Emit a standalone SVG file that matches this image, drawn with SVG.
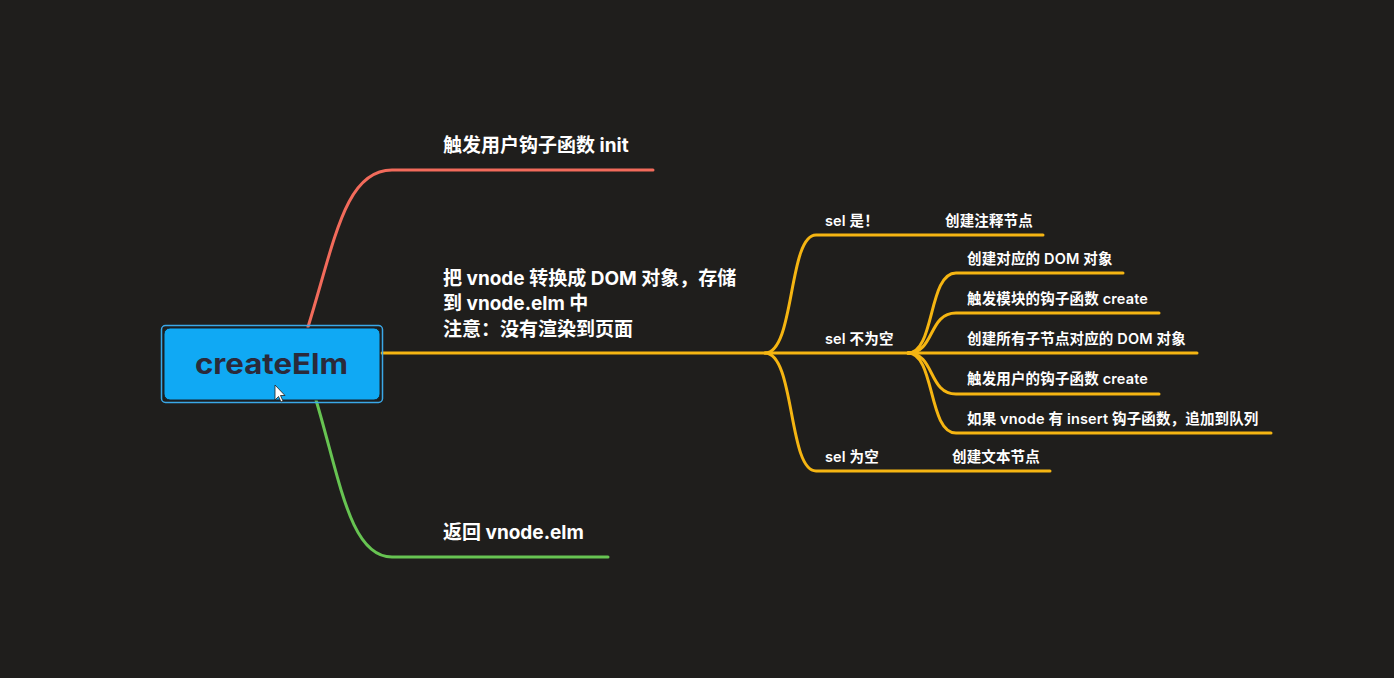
<svg xmlns="http://www.w3.org/2000/svg" width="1394" height="678" viewBox="0 0 1394 678">
<style>
.bg{fill:#1f1e1c}
.c{fill:none;stroke-width:3;stroke-linecap:round}
.red{stroke:#f26b5b}
.green{stroke:#67c452}
.yel{stroke:#f5b512}
.t1{font-family:Inter,"Noto Sans CJK SC",sans-serif;font-weight:700;font-size:19px;fill:#ffffff}
.t2{font-family:Inter,"Noto Sans CJK SC",sans-serif;font-weight:600;font-size:14.5px;fill:#ffffff;letter-spacing:0.15px}
.root{font-family:Inter,"Noto Sans",sans-serif;font-weight:700;font-size:28px;fill:#2b2a3a}
</style>
<rect class="bg" x="0" y="0" width="1394" height="678"/>
<g id="connectors">
<path class="c red" d="M308,327 C335,240 345,170 392,170 H653"/>
<path class="c green" d="M316,400 C340,480 350,557 392,557 H608"/>
<path class="c yel" d="M382,353 H910"/>
<path class="c yel" d="M765,353 C795,353 788,235 816,235 H1043"/>
<path class="c yel" d="M765,353 C795,353 788,471 816,471 H1050"/>
<path class="c yel" d="M908,353 C935,353 928,273 956,273 H1123"/>
<path class="c yel" d="M908,353 C935,353 928,313 956,313 H1159"/>
<path class="c yel" d="M908,353 H1197"/>
<path class="c yel" d="M908,353 C935,353 928,394 956,394 H1159"/>
<path class="c yel" d="M908,353 C935,353 928,433 956,433 H1271"/>
</g>
<g id="root">
<rect x="161.5" y="325.5" width="221" height="77" rx="4" fill="none" stroke="#3aa8e8" stroke-width="1.5"/>
<rect x="164" y="328" width="216" height="72" rx="6" fill="#10a9f4" stroke="#15202a" stroke-width="1"/>
<text class="root" x="195" y="374" textLength="153" lengthAdjust="spacingAndGlyphs">createElm</text>
<path d="M275,385 L275,400 L278.5,396.5 L281,402 L283,401 L280.5,395.5 L285,395.5 Z" fill="#ffffff" stroke="#222" stroke-width="0.8"/>
</g>
<g id="n-init"><text class="t1" x="443" y="152">触发用户钩子函数 init</text></g>
<g id="n-dom">
<text class="t1" x="443" y="285">把 vnode 转换成 DOM 对象，存储</text>
<text class="t1" x="443" y="310">到 vnode.elm 中</text>
<text class="t1" x="443" y="336">注意：没有渲染到页面</text>
</g>
<g id="n-return"><text class="t1" x="443" y="539">返回 vnode.elm</text></g>
<g id="n-sel1"><text class="t2" x="825" y="226">sel 是！</text></g>
<g id="n-comment"><text class="t2" x="945" y="226">创建注释节点</text></g>
<g id="n-sel2"><text class="t2" x="825" y="344">sel 不为空</text></g>
<g id="n-sel3"><text class="t2" x="825" y="462">sel 为空</text></g>
<g id="n-text"><text class="t2" x="952" y="462">创建文本节点</text></g>
<g id="n-a"><text class="t2" x="967" y="264">创建对应的 DOM 对象</text></g>
<g id="n-b"><text class="t2" x="967" y="304">触发模块的钩子函数 create</text></g>
<g id="n-c"><text class="t2" x="967" y="344">创建所有子节点对应的 DOM 对象</text></g>
<g id="n-d"><text class="t2" x="967" y="384">触发用户的钩子函数 create</text></g>
<g id="n-e"><text class="t2" x="967" y="424">如果 vnode 有 insert 钩子函数，追加到队列</text></g>
</svg>
